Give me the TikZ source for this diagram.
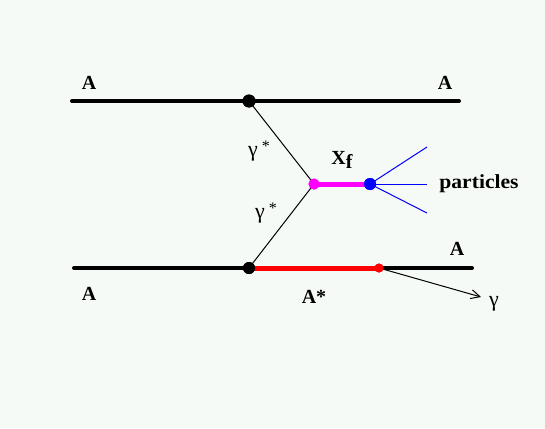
\documentclass[tikz,border=0pt]{standalone}
\usepackage{fontspec}
\setmainfont{Liberation Serif}
\usetikzlibrary{arrows.meta}
\definecolor{bg}{RGB}{246,250,246}
\definecolor{mag}{RGB}{255,0,255}
\tikzset{
  lbl/.style={font=\fontsize{20}{22}\selectfont\bfseries, inner sep=0pt},
  glbl/.style={font=\fontsize{22}{24}\selectfont, inner sep=0pt},
  heavy/.style={line width=4pt},
  thin/.style={line width=1pt},
  dot/.style={circle, fill, inner sep=0pt, minimum size=#1},
}
\newcommand{\gstar}{γ\hspace{4pt}\raisebox{0.5ex}{\fontsize{16}{18}\selectfont *}}
\begin{document}
\begin{tikzpicture}[x=1pt,y=-1pt]
\fill[bg] (0,0) rectangle (545,428);
\useasboundingbox (0,0) rectangle (545,428);
% coordinates
\coordinate (tl) at (72,101);
\coordinate (tr) at (459,101);
\coordinate (bl) at (74,268);
\coordinate (br) at (472,268);
\coordinate (p1) at (427,147);
\coordinate (p2) at (427,184);
\coordinate (p3) at (427,213);
\coordinate (g) at (481,297);
% lines
\draw[heavy, line cap=round] (tl) -- (tr);
\draw[heavy, line cap=round] (bl) -- (br);
\node[dot=13pt, black] (v1) at (249,101) {};
\node[dot=12pt, black] (v2) at (249,268) {};
\node[dot=11pt, mag] (m) at (314,184) {};
\node[dot=12pt, blue] (b) at (370,184) {};
\node[dot=9pt, red] (r) at (379,268) {};
\draw[line width=5pt, red] (v2.center) -- (r.center);
\draw[line width=5pt, mag] (m.center) -- (b.center);
\draw[thin] (v1.center) -- (m.center);
\draw[thin] (v2.center) -- (m.center);
\draw[thin, blue] (b.center) -- (p1);
\draw[thin, blue] (b.center) -- (p2);
\draw[thin, blue] (b.center) -- (p3);
\draw[thin, -{Straight Barb[length=9pt,width=9pt]}] (r.center) -- (g);
% redraw dots on top
\node[dot=13pt, black] at (v1) {};
\node[dot=12pt, black] at (v2) {};
\node[dot=11pt, mag] at (m) {};
\node[dot=12pt, blue] at (b) {};
\node[dot=9pt, red] at (r) {};
% labels
\node[lbl] (a1) at (89,83) {A};
\node[lbl] (a2) at (445,83) {A};
\node[lbl] (a3) at (457,249) {A};
\node[lbl] (a4) at (89,294) {A};
\node[lbl] (as) at (314,297) {A*};
\node[lbl] (x) at (342,160) {X\raisebox{-0.45ex}{f}};
\node[lbl, xscale=1.08] (pt) at (479,184) {particles};
\node[glbl] (g1) at (259,151) {\gstar};
\node[glbl] (g2) at (266,213) {\gstar};
\node[glbl] (g3) at (494,304) {γ};
\end{tikzpicture}
\end{document}
